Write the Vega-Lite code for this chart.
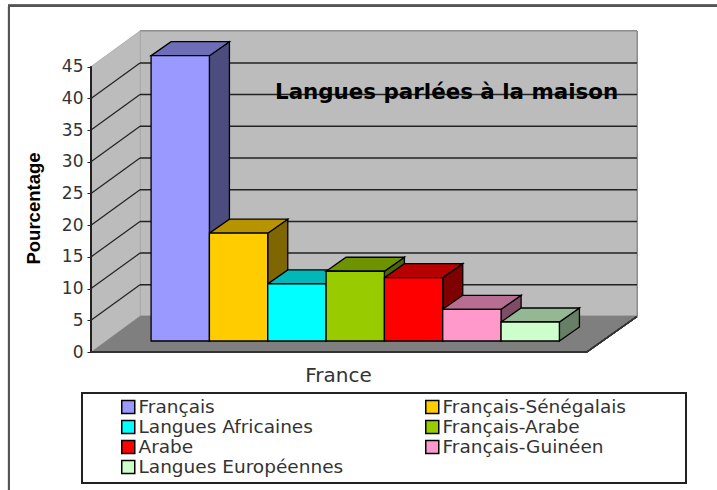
{
"$schema":"https://vega.github.io/schema/vega-lite/v6.json",
"width":546,"height":321,
"autosize":{"type":"none"},
"padding":{"left":91,"top":31,"right":80,"bottom":138},
"background":"white",
"view":{"stroke":null},
"resolve":{"axis":{"x":"independent","y":"independent"}},
"title":{"text":"Langues  parlées à la maison","anchor":"start","frame":"group","dx":184,"dy":103,"fontSize":21.4,"font":"DejaVu Sans","fontWeight":"bold","color":"#000000"},
"data":{"values":[
{"langue":"Français","ordre":1,"valeur":45},
{"langue":"Français-Sénégalais","ordre":2,"valeur":17},
{"langue":"Langues Africaines","ordre":3,"valeur":9},
{"langue":"Français-Arabe","ordre":4,"valeur":11},
{"langue":"Arabe","ordre":5,"valeur":10},
{"langue":"Français-Guinéen","ordre":6,"valeur":5},
{"langue":"Langues Européennes","ordre":7,"valeur":3}
]},
"layer":[
{"data":{"values":[{"tick":0},{"tick":5},{"tick":10},{"tick":15},{"tick":20},{"tick":25},{"tick":30},{"tick":35},{"tick":40},{"tick":45}]},
 "mark":{"type":"rule","color":"#222222","strokeWidth":1},
 "encoding":{
  "x":{"datum":0,"type":"quantitative","scale":{"domain":[0,9.36],"nice":false,"zero":false,"padding":0},
       "axis":{"title":"France","titleFont":"DejaVu Sans","titleFontSize":20,"titleFontWeight":"normal","titleColor":"#333333","titleX":247,"titleY":13,"titleBaseline":"top","titleAnchor":"middle","labels":false,"ticks":false,"domain":false,"grid":false}},
  "x2":{"datum":0},
  "y":{"field":"tick","type":"quantitative","scale":{"domain":[0,50.63],"nice":false,"zero":false},
       "axis":{"values":[0,5,10,15,20,25,30,35,40,45],"labelOverlap":false,"labelBound":false,"title":"Pourcentage","titleFont":"Liberation Sans","titleFontSize":18.5,"titleFontWeight":"bold","titleColor":"#000000","titleX":-48,"titleY":177,"titleAnchor":"middle","labelFont":"DejaVu Sans","labelFontSize":17,"labelColor":"#333333","labelPadding":4,"tickSize":4,"tickColor":"#222222","domain":false,"grid":false}}
 }},
{"mark":{"type":"rect","fill":null,"stroke":"#555555","strokeWidth":2},
 "encoding":{
  "x":{"datum":-1.406,"type":"quantitative","axis":null},"x2":{"datum":10.9},
  "y":{"datum":54.6,"type":"quantitative","axis":null},"y2":{"datum":-23}
 }},
{"mark":{"type":"rect","fill":null,"stroke":"#222222","strokeWidth":1.5},
 "encoding":{
  "x":{"datum":-0.154,"type":"quantitative","axis":null},"x2":{"datum":10.2},
  "y":{"datum":-6.42,"type":"quantitative","axis":null},"y2":{"datum":-20.66}
 }},
{"mark":{"type":"rect","fill":"#bcbcbc","stroke":"#8c8c8c","strokeWidth":1},
 "encoding":{
  "x":{"datum":0.84,"type":"quantitative","axis":null},"x2":{"datum":9.36},
  "y":{"datum":5.68,"type":"quantitative","axis":null},"y2":{"datum":50.63}
 }},
{"data":{"values":[{"p":0,"bas":0,"haut":45},{"p":0.84,"bas":5.68,"haut":50.63}]},
 "mark":{"type":"area","fill":"#bcbcbc","stroke":"#b0b0b0","strokeWidth":1},
 "encoding":{"x":{"field":"p","type":"quantitative","axis":null},"y":{"field":"bas","type":"quantitative","axis":null},"y2":{"field":"haut"}}},
{"data":{"values":[{"p":0,"bas":0,"haut":0},{"p":0.84,"bas":0,"haut":5.68},{"p":8.5,"bas":0,"haut":5.68},{"p":9.36,"bas":5.68,"haut":5.68}]},
 "mark":{"type":"area","fill":"#7f7f7f"},
 "encoding":{"x":{"field":"p","type":"quantitative","axis":null},"y":{"field":"bas","type":"quantitative","axis":null},"y2":{"field":"haut"}}},
{"data":{"values":[{"tick":5},{"tick":10},{"tick":15},{"tick":20},{"tick":25},{"tick":30},{"tick":35},{"tick":40}]},
 "mark":{"type":"rule","color":"#222222","strokeWidth":1.2,"y2Offset":-35.5},
 "encoding":{"x":{"datum":0,"type":"quantitative","axis":null},"x2":{"datum":0.84},"y":{"field":"tick","type":"quantitative","axis":null},"y2":{"field":"tick"}}},
{"data":{"values":[{"tick":5},{"tick":10},{"tick":15},{"tick":20},{"tick":25},{"tick":30},{"tick":35},{"tick":40}]},
 "mark":{"type":"rule","color":"#222222","strokeWidth":1.5,"yOffset":-35.5},
 "encoding":{"x":{"datum":0.84,"type":"quantitative","axis":null},"x2":{"datum":9.36},"y":{"field":"tick","type":"quantitative","axis":null}}},
{"mark":{"type":"rule","color":"#222222","strokeWidth":1.5},
 "encoding":{"x":{"datum":0,"type":"quantitative","axis":null},"y":{"datum":0,"type":"quantitative","axis":null},"y2":{"datum":45}}},
{"mark":{"type":"rule","color":"#333333","strokeWidth":1.5},
 "encoding":{"x":{"datum":0,"type":"quantitative","axis":null},"x2":{"datum":8.5},"y":{"datum":0,"type":"quantitative","axis":null}}},
{"mark":{"type":"rule","color":"#333333","strokeWidth":1.2,"y2Offset":-35.5},
 "encoding":{"x":{"datum":8.5,"type":"quantitative","axis":null},"x2":{"datum":9.36},"y":{"datum":0,"type":"quantitative","axis":null},"y2":{"datum":0}}},
{"mark":{"type":"point","filled":true,"opacity":1,"size":4,"stroke":"#000000","strokeWidth":1.3,"xOffset":60.1,"yOffset":-11,
  "shape":{"expr":"'M0,0L20,-14L20,'+(datum.valeur*6.34-14)+'L0,'+(datum.valeur*6.34)+'Z'"}},
 "encoding":{"x":{"field":"ordre","type":"quantitative","axis":null},"y":{"field":"valeur","type":"quantitative","axis":null},
  "color":{"field":"langue","type":"nominal"}}},
{"mark":{"type":"point","filled":true,"opacity":0.5,"size":4,"color":"#000000","xOffset":60.1,"yOffset":-11,
  "shape":{"expr":"'M0,0L20,-14L20,'+(datum.valeur*6.34-14)+'L0,'+(datum.valeur*6.34)+'Z'"}},
 "encoding":{"x":{"field":"ordre","type":"quantitative","axis":null},"y":{"field":"valeur","type":"quantitative","axis":null}}},
{"mark":{"type":"point","filled":true,"opacity":1,"size":4,"stroke":"#000000","strokeWidth":1.3,"xOffset":1.75,"yOffset":-11,
  "shape":"M0,0L58.3,0L78.3,-14L20,-14Z"},
 "encoding":{"x":{"field":"ordre","type":"quantitative","axis":null},"y":{"field":"valeur","type":"quantitative","axis":null},
  "color":{"field":"langue","type":"nominal"}}},
{"mark":{"type":"point","filled":true,"opacity":0.28,"size":4,"color":"#000000","xOffset":1.75,"yOffset":-11,
  "shape":"M0,0L58.3,0L78.3,-14L20,-14Z"},
 "encoding":{"x":{"field":"ordre","type":"quantitative","axis":null},"y":{"field":"valeur","type":"quantitative","axis":null}}},
{"mark":{"type":"bar","orient":"vertical","width":58.3,"stroke":"#000000","strokeWidth":1.3,"xOffset":30.9,"yOffset":-11,"y2Offset":-11},
 "encoding":{
  "x":{"field":"ordre","type":"quantitative","axis":null},
  "y":{"field":"valeur","type":"quantitative","axis":null},
  "y2":{"datum":0},
  "color":{"field":"langue","type":"nominal",
   "scale":{"domain":["Français","Français-Sénégalais","Langues Africaines","Français-Arabe","Arabe","Français-Guinéen","Langues Européennes"],
            "range":["#9999FF","#FFCC00","#00FFFF","#99CC00","#FF0000","#FF99CC","#CCFFCC"]},
   "legend":{"title":null,"orient":"none","legendX":28,"legendY":366,"direction":"horizontal","columns":2,"symbolType":"square","symbolSize":169,"symbolStrokeColor":"#222222","symbolStrokeWidth":1.5,"labelFont":"DejaVu Sans","labelFontSize":18.5,"labelColor":"#333333","labelOffset":1,"rowPadding":0,"columnPadding":79,"gridAlign":"each","padding":0,"labelLimit":300,"clipHeight":20}}
 }}
]
}
